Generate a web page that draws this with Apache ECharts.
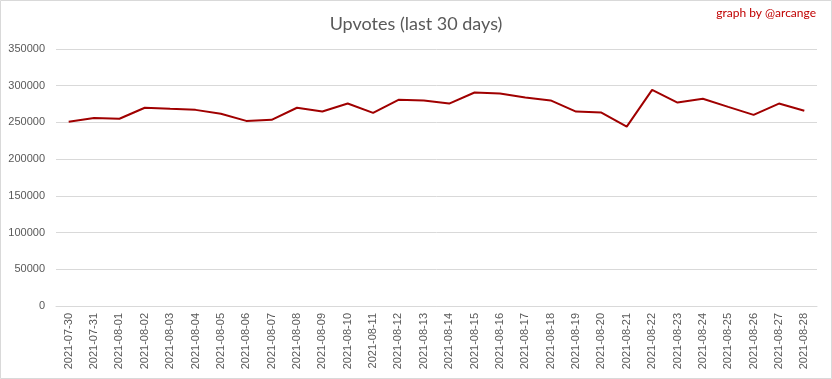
<!DOCTYPE html>
<html><head><meta charset="utf-8">
<script src="https://cdn.jsdelivr.net/npm/echarts@6/dist/echarts.min.js"></script>
<style>html,body{margin:0;padding:0;background:#fff}#c{width:832px;height:379px}</style>
</head><body><div id="c"></div>
<script>
var categories = ["2021-07-30","2021-07-31","2021-08-01","2021-08-02","2021-08-03","2021-08-04","2021-08-05","2021-08-06","2021-08-07","2021-08-08","2021-08-09","2021-08-10","2021-08-11","2021-08-12","2021-08-13","2021-08-14","2021-08-15","2021-08-16","2021-08-17","2021-08-18","2021-08-19","2021-08-20","2021-08-21","2021-08-22","2021-08-23","2021-08-24","2021-08-25","2021-08-26","2021-08-27","2021-08-28"];
var upvotes = [251000,256000,255000,270000,268500,267100,261700,252100,253500,270000,264800,275700,263000,280800,279800,275700,290800,289400,284000,280000,264800,263500,244300,294400,277100,282200,271200,260300,275700,265800];
var titleText = "Upvotes (last 30 days)";
var creditText = "graph by @arcange";

var chart = echarts.init(document.getElementById('c'), null, {renderer:'canvas'});
chart.setOption({
  animation:false,
  backgroundColor:'#fff',
  title:{text:titleText,left:'center',top:10,textStyle:{fontFamily:'Lato',fontWeight:'normal',fontSize:18,color:'#595959'}},
  graphic:[
    {type:'rect',shape:{x:0.5,y:0.5,width:831,height:378},style:{fill:'none',stroke:'#d9d9d9',lineWidth:1},silent:true},
    {type:'text',right:16,top:7,style:{text:creditText,fontFamily:'Lato',fontSize:12,fill:'#c00000'}}
  ],
  grid:{left:56,right:15,top:49,bottom:73,containLabel:false},
  xAxis:{type:'category',data:categories,boundaryGap:true,
    axisLine:{lineStyle:{color:'#d9d9d9'}},axisTick:{show:false},
    axisLabel:{rotate:90,interval:0,color:'#595959',fontFamily:'Liberation Sans',fontSize:11,margin:7}},
  yAxis:{type:'value',min:0,max:350000,interval:50000,
    axisLine:{show:false},axisTick:{show:false},
    splitLine:{lineStyle:{color:'#d9d9d9'}},
    axisLabel:{color:'#595959',fontFamily:'Liberation Sans',fontSize:11,margin:11,formatter:function(v){return String(v);}}},
  series:[{type:'line',data:upvotes,symbol:'none',lineStyle:{color:'#a00000',width:2},itemStyle:{color:'#a00000'}}]
});
</script></body></html>
